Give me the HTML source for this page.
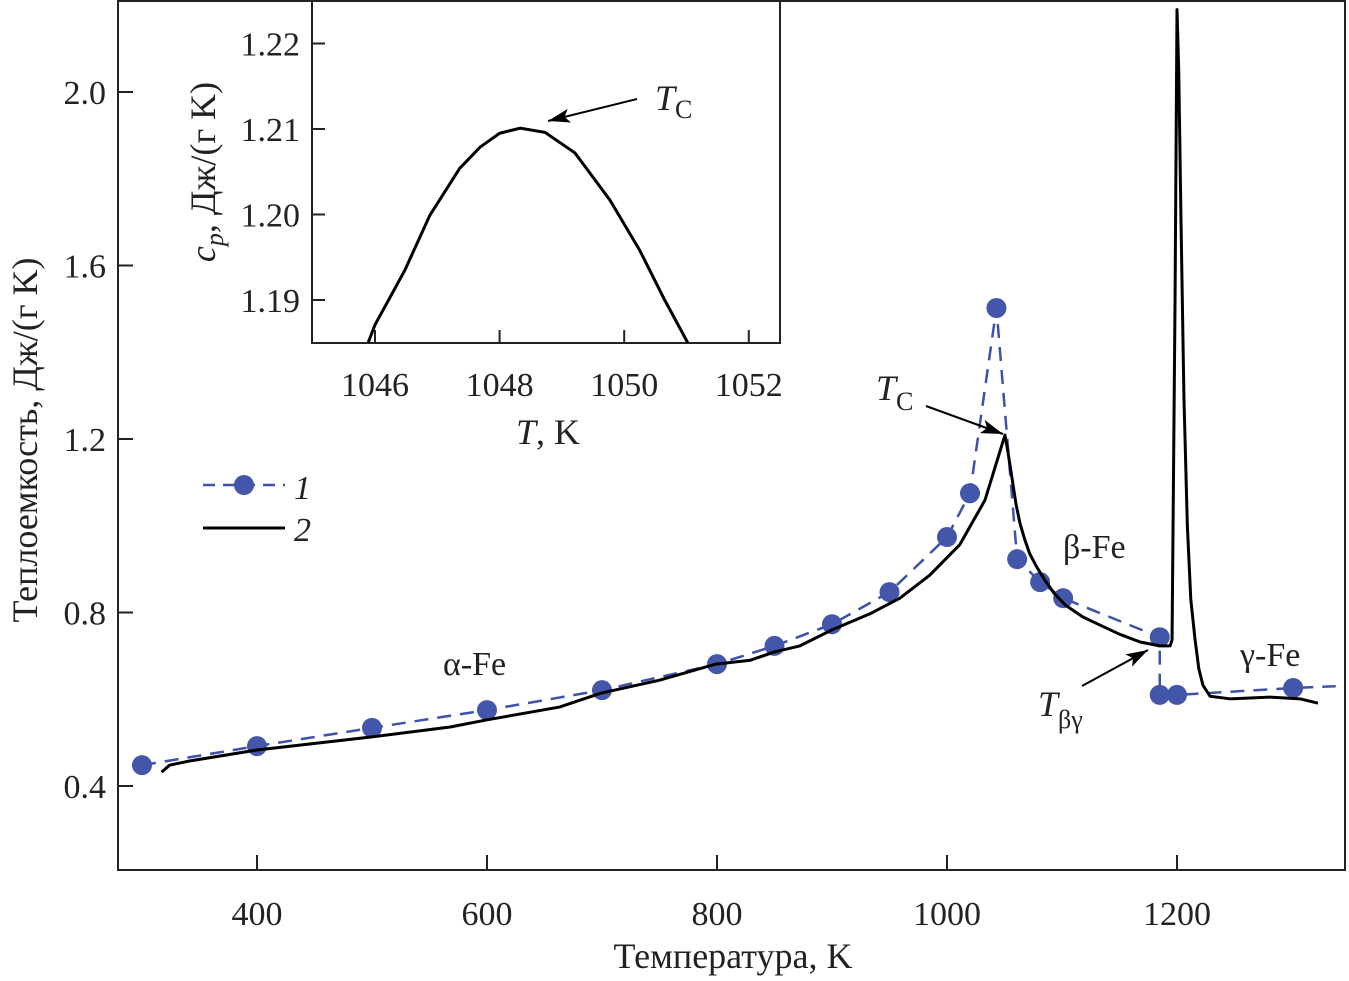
<!DOCTYPE html>
<html><head><meta charset="utf-8"><style>
html,body{margin:0;padding:0;background:#fff;}
svg, svg text{font-family:"Liberation Serif","DejaVu Serif",serif;}
svg{display:block;}
</style></head><body>
<svg id="chart" width="1349" height="981" viewBox="0 0 1349 981" font-family="Liberation Serif, DejaVu Serif, serif"></svg>
<script>
// main chart data
const xTicks=[400,600,800,1000,1200];
const yTicks=[0.4,0.8,1.2,1.6,2.0];
const expT=[300,400,500,600,700,800,850,900,950,1000,1020,1043,1061,1081,1101,1185,1185,1200,1301,1338];
const expV=[0.448,0.492,0.534,0.575,0.621,0.681,0.723,0.773,0.847,0.974,1.075,1.502,0.923,0.870,0.833,0.743,0.61,0.61,0.626,0.63];
const expMarker=[1,1,1,1,1,1,1,1,1,1,1,1,1,1,1,1,1,1,1,0];
const calcT=[317,324,342,400,499,568,599,663,699,750,799,829,850,872,900,933,959,985,1011,1033,1050.4,1053,1056.5,1060,1063.5,1068,1072,1078,1085,1093,1103,1118,1133,1150,1168,1185,1194,1195.7,1198.3,1200,1201.5,1203.5,1206,1209,1212,1215.6,1219,1222.6,1228.7,1246,1281,1307,1322.6];
const calcV=[0.432,0.448,0.458,0.483,0.513,0.536,0.552,0.582,0.614,0.644,0.681,0.690,0.709,0.723,0.760,0.797,0.833,0.886,0.956,1.059,1.209,1.17,1.11,1.05,1.005,0.965,0.935,0.905,0.875,0.845,0.817,0.79,0.771,0.75,0.732,0.723,0.723,0.737,1.52,2.19,2.05,1.70,1.30,1.00,0.83,0.74,0.67,0.632,0.607,0.601,0.605,0.601,0.591];
// inset data
const inXTicks=[1046,1048,1050,1052];
const inYTicks=[1.19,1.20,1.21,1.22];
const inT=[1045.89,1046,1046.48,1046.88,1047.36,1047.69,1048,1048.33,1048.73,1049.21,1049.77,1050.25,1050.65,1051.02];
const inV=[1.185,1.1871,1.1935,1.1999,1.2054,1.2079,1.2095,1.2101,1.2096,1.2072,1.2017,1.1958,1.19,1.185];

const NS="http://www.w3.org/2000/svg";
const FONT='Liberation Serif, DejaVu Serif, serif';
const svg=document.getElementById('chart');
function mk(tag,attrs,parent){const e=document.createElementNS(NS,tag);for(const k in attrs)e.setAttribute(k,attrs[k]);if(tag==='text')e.setAttribute('font-family',FONT);(parent||svg).appendChild(e);return e;}
const X=t=>257+(t-400)*1.15;
const Y=v=>786-(v-0.4)*433.75;
const IX=t=>375+(t-1046)*62.3;
const IY=v=>300-(v-1.19)*8550;

const defs=mk('defs',{});
const mkr=mk('marker',{id:'arr',markerWidth:22,markerHeight:14,refX:22,refY:7,orient:'auto',markerUnits:'userSpaceOnUse'},defs);
mk('path',{d:'M0,0 L22,7 L0,14 L5,7 Z',fill:'#000'},mkr);
const cp=mk('clipPath',{id:'mainclip'},defs);mk('rect',{x:118,y:0,width:1228,height:870},cp);
const icp=mk('clipPath',{id:'inclip'},defs);mk('rect',{x:312,y:0,width:468,height:343},icp);

const frame=mk('rect',{x:118,y:1,width:1227,height:869,fill:'none',stroke:'#222','stroke-width':2});


xTicks.forEach(t=>{
  const l=mk('line',{x1:X(t),x2:X(t),y1:870,y2:855,stroke:'#222','stroke-width':2});
  
  
  const tx=mk('text',{x:X(t),y:925,'font-size':34,'text-anchor':'middle',fill:'#222'});tx.textContent=t;
  
  
});
yTicks.forEach(v=>{
  const l=mk('line',{x1:118,x2:133,y1:Y(v),y2:Y(v),stroke:'#222','stroke-width':2});
  
  
  const tx=mk('text',{x:106,y:Y(v)+12,'font-size':34,'text-anchor':'end',fill:'#222'});tx.textContent=v.toFixed(1);
  
  
});
const xt=mk('text',{x:733,y:968,'font-size':36,'text-anchor':'middle',fill:'#222'});xt.textContent='Температура, K';


const yt=mk('text',{x:0,y:0,'font-size':36,'text-anchor':'middle',fill:'#222',transform:'translate(37,440) rotate(-90)'});yt.textContent='Теплоемкость, Дж/(г K)';



const g=mk('g',{'clip-path':'url(#mainclip)'});
const dash=mk('polyline',{points:expT.map((t,i)=>X(t)+','+Y(expV[i])).join(' '),fill:'none',stroke:'#3f51a8','stroke-width':2.5,'stroke-dasharray':'14,9'},g);


expT.forEach((t,i)=>{if(!expMarker[i])return;
  const c=mk('circle',{cx:X(t),cy:Y(expV[i]),r:10,fill:'#4356a9'},g);
  
  
});
const sol=mk('polyline',{points:calcT.map((t,i)=>X(t)+','+Y(calcV[i])).join(' '),fill:'none',stroke:'#000','stroke-width':3,'stroke-linejoin':'round'},g);



function label(x,y,html,size,name){const t=mk('text',{x:x,y:y,'font-size':size||34,fill:'#222'});t.innerHTML=html;return t;}
label(443,675,'α-Fe',34,'alpha-fe-label');
label(1063,558,'β-Fe',34,'beta-fe-label');
label(1240,666,'γ-Fe',34,'gamma-fe-label');
label(876,400,'<tspan font-style="italic">T</tspan><tspan font-size="26" dy="10">C</tspan>',36,'tc-label');
const a1=mk('line',{x1:926,y1:406,x2:1003,y2:434,stroke:'#000','stroke-width':2,'marker-end':'url(#arr)'});


label(1038,716,'<tspan font-style="italic">T</tspan><tspan font-size="26" dy="12">βγ</tspan>',36,'tbg-label');
const a2=mk('line',{x1:1082,y1:686,x2:1148,y2:650,stroke:'#000','stroke-width':2,'marker-end':'url(#arr)'});



const lg=mk('g',{});
const l1=mk('line',{x1:203,x2:285,y1:485,y2:485,stroke:'#3f51a8','stroke-width':2.5,'stroke-dasharray':'12,8'},lg);


const lc=mk('circle',{cx:244,cy:485,r:10,fill:'#4356a9'},lg);


const lt1=mk('text',{x:294,y:499,'font-size':34,'font-style':'italic',fill:'#222'},lg);lt1.textContent='1';


const l2=mk('line',{x1:203,x2:285,y1:528,y2:528,stroke:'#000','stroke-width':3},lg);


const lt2=mk('text',{x:294,y:541,'font-size':34,'font-style':'italic',fill:'#222'},lg);lt2.textContent='2';



const ig=mk('g',{});
mk('rect',{x:190,y:2,width:600,height:455,fill:'#fff'},ig);
const ifr=mk('path',{d:'M312,1 L312,343 L780,343 L780,1',fill:'none',stroke:'#222','stroke-width':2},ig);


inXTicks.forEach(t=>{
  const l=mk('line',{x1:IX(t),x2:IX(t),y1:343,y2:330,stroke:'#222','stroke-width':2},ig);
  
  
  const tx=mk('text',{x:IX(t),y:396,'font-size':34,'text-anchor':'middle',fill:'#222'},ig);tx.textContent=t;
  
  
});
inYTicks.forEach(v=>{
  const l=mk('line',{x1:312,x2:325,y1:IY(v),y2:IY(v),stroke:'#222','stroke-width':2},ig);
  
  
  const tx=mk('text',{x:300,y:IY(v)+12,'font-size':34,'text-anchor':'end',fill:'#222'},ig);tx.textContent=v.toFixed(2);
  
  
});
const ixt=mk('text',{x:548,y:444,'font-size':36,'text-anchor':'middle',fill:'#222'},ig);ixt.innerHTML='<tspan font-style="italic">T</tspan>, K';


const iyt=mk('text',{x:0,y:0,'font-size':36,'text-anchor':'middle',fill:'#222',transform:'translate(215,172) rotate(-90)'},ig);
iyt.innerHTML='<tspan font-style="italic">c</tspan><tspan font-style="italic" font-size="26" dy="8">p</tspan><tspan dy="-8">, Дж/(г K)</tspan>';


const ic=mk('polyline',{points:inT.map((t,i)=>IX(t)+','+IY(inV[i])).join(' '),fill:'none',stroke:'#000','stroke-width':3,'clip-path':'url(#inclip)'},ig);


const itc=mk('text',{x:655,y:110,'font-size':36,fill:'#222'},ig);itc.innerHTML='<tspan font-style="italic">T</tspan><tspan font-size="26" dy="8">C</tspan>';


const ia=mk('line',{x1:637,y1:99,x2:548,y2:121,stroke:'#000','stroke-width':2,'marker-end':'url(#arr)'},ig);


</script>
</body></html>
